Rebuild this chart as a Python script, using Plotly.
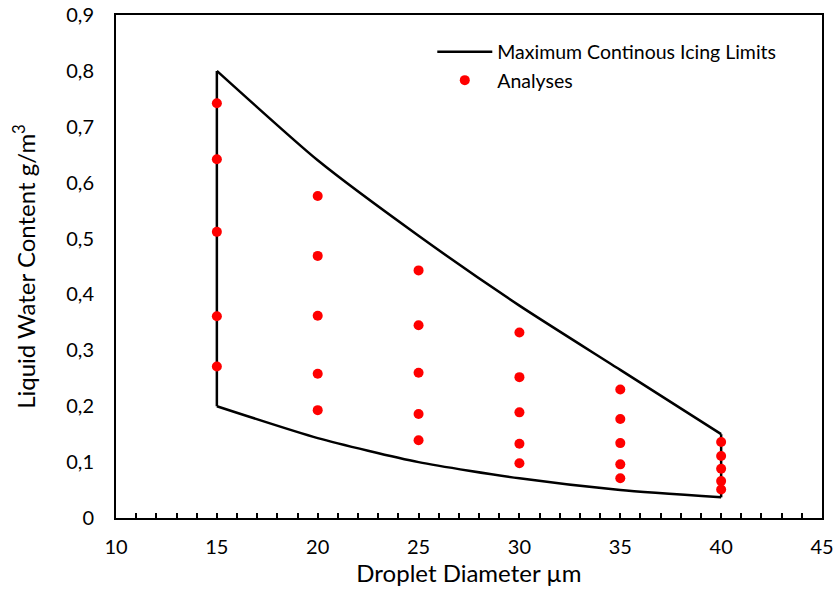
import plotly.graph_objects as go

# Boundary (Maximum Continuous Icing Limits)
limit_x = [15, 20, 25, 30, 35, 40]
limit_upper = [0.80, 0.64, 0.505, 0.38, 0.265, 0.15]
limit_lower = [0.20, 0.143, 0.10, 0.071, 0.05, 0.037]

# Analyses points
analyses_x = [15]*5 + [20]*5 + [25]*5 + [30]*5 + [35]*5 + [40]*5
analyses_y = [0.742, 0.642, 0.512, 0.361, 0.271,
              0.576, 0.469, 0.362, 0.258, 0.193,
              0.443, 0.345, 0.260, 0.186, 0.139,
              0.332, 0.252, 0.189, 0.133, 0.098,
              0.230, 0.177, 0.134, 0.096, 0.071,
              0.136, 0.111, 0.088, 0.066, 0.051]

x_ticks = [10, 15, 20, 25, 30, 35, 40, 45]
y_ticks = [0, 0.1, 0.2, 0.3, 0.4, 0.5, 0.6, 0.7, 0.8, 0.9]
y_ticktext = ["0", "0,1", "0,2", "0,3", "0,4", "0,5", "0,6", "0,7", "0,8", "0,9"]

FONT = "Lato"
line_style = dict(color="black", width=2.5)

fig = go.Figure()
fig.add_trace(go.Scatter(x=limit_x, y=limit_upper, mode="lines", line=dict(**line_style, shape="spline", smoothing=0.6),
                         name="Maximum Continous Icing Limits", legendgroup="lim"))
fig.add_trace(go.Scatter(x=limit_x, y=limit_lower, mode="lines", line=dict(**line_style, shape="spline", smoothing=0.6),
                         showlegend=False, legendgroup="lim"))
fig.add_trace(go.Scatter(x=[limit_x[0], limit_x[0]], y=[limit_lower[0], limit_upper[0]], mode="lines",
                         line=line_style, showlegend=False, legendgroup="lim"))
fig.add_trace(go.Scatter(x=[limit_x[-1], limit_x[-1]], y=[limit_lower[-1], limit_upper[-1]], mode="lines",
                         line=line_style, showlegend=False, legendgroup="lim"))
fig.add_trace(go.Scatter(x=analyses_x, y=analyses_y, mode="markers",
                         marker=dict(color="#ff0000", size=10), name="Analyses"))

fig.update_layout(
    width=835, height=597,
    margin=dict(l=116, r=13, t=15, b=79, autoexpand=False),
    paper_bgcolor="white", plot_bgcolor="white",
    font=dict(family=FONT, size=20, color="black"),
    showlegend=True,
    legend=dict(x=0.448, y=0.965, xanchor="left", yanchor="top", bgcolor="rgba(0,0,0,0)",
                font=dict(family=FONT, size=19.5), tracegroupgap=0, itemwidth=55),
)
fig.update_xaxes(range=[10, 45], tickvals=x_ticks, ticktext=[str(v) for v in x_ticks],
                 showgrid=False, zeroline=False, showline=True, linecolor="black", linewidth=2, mirror=True,
                 ticks="inside", ticklen=5, tickcolor="black", tickwidth=1.5, automargin=False,
                 minor=dict(dtick=1, ticks="inside", ticklen=5, tickcolor="black", tickwidth=1.5, showgrid=False),
                 ticklabelstandoff=10,
                 title=dict(text="Droplet Diameter µm", font=dict(size=24), standoff=8),
                 tickfont=dict(size=20))
fig.update_yaxes(range=[0, 0.9], tickvals=y_ticks, ticktext=y_ticktext,
                 showgrid=False, zeroline=False, showline=True, linecolor="black", linewidth=2, mirror=True,
                 ticks="", ticklabelstandoff=16, automargin=False,
                 title=dict(text="Liquid Water Content g/m<sup>3</sup>", font=dict(size=24), standoff=24),
                 tickfont=dict(size=20))

fig.write_html("out.html")
